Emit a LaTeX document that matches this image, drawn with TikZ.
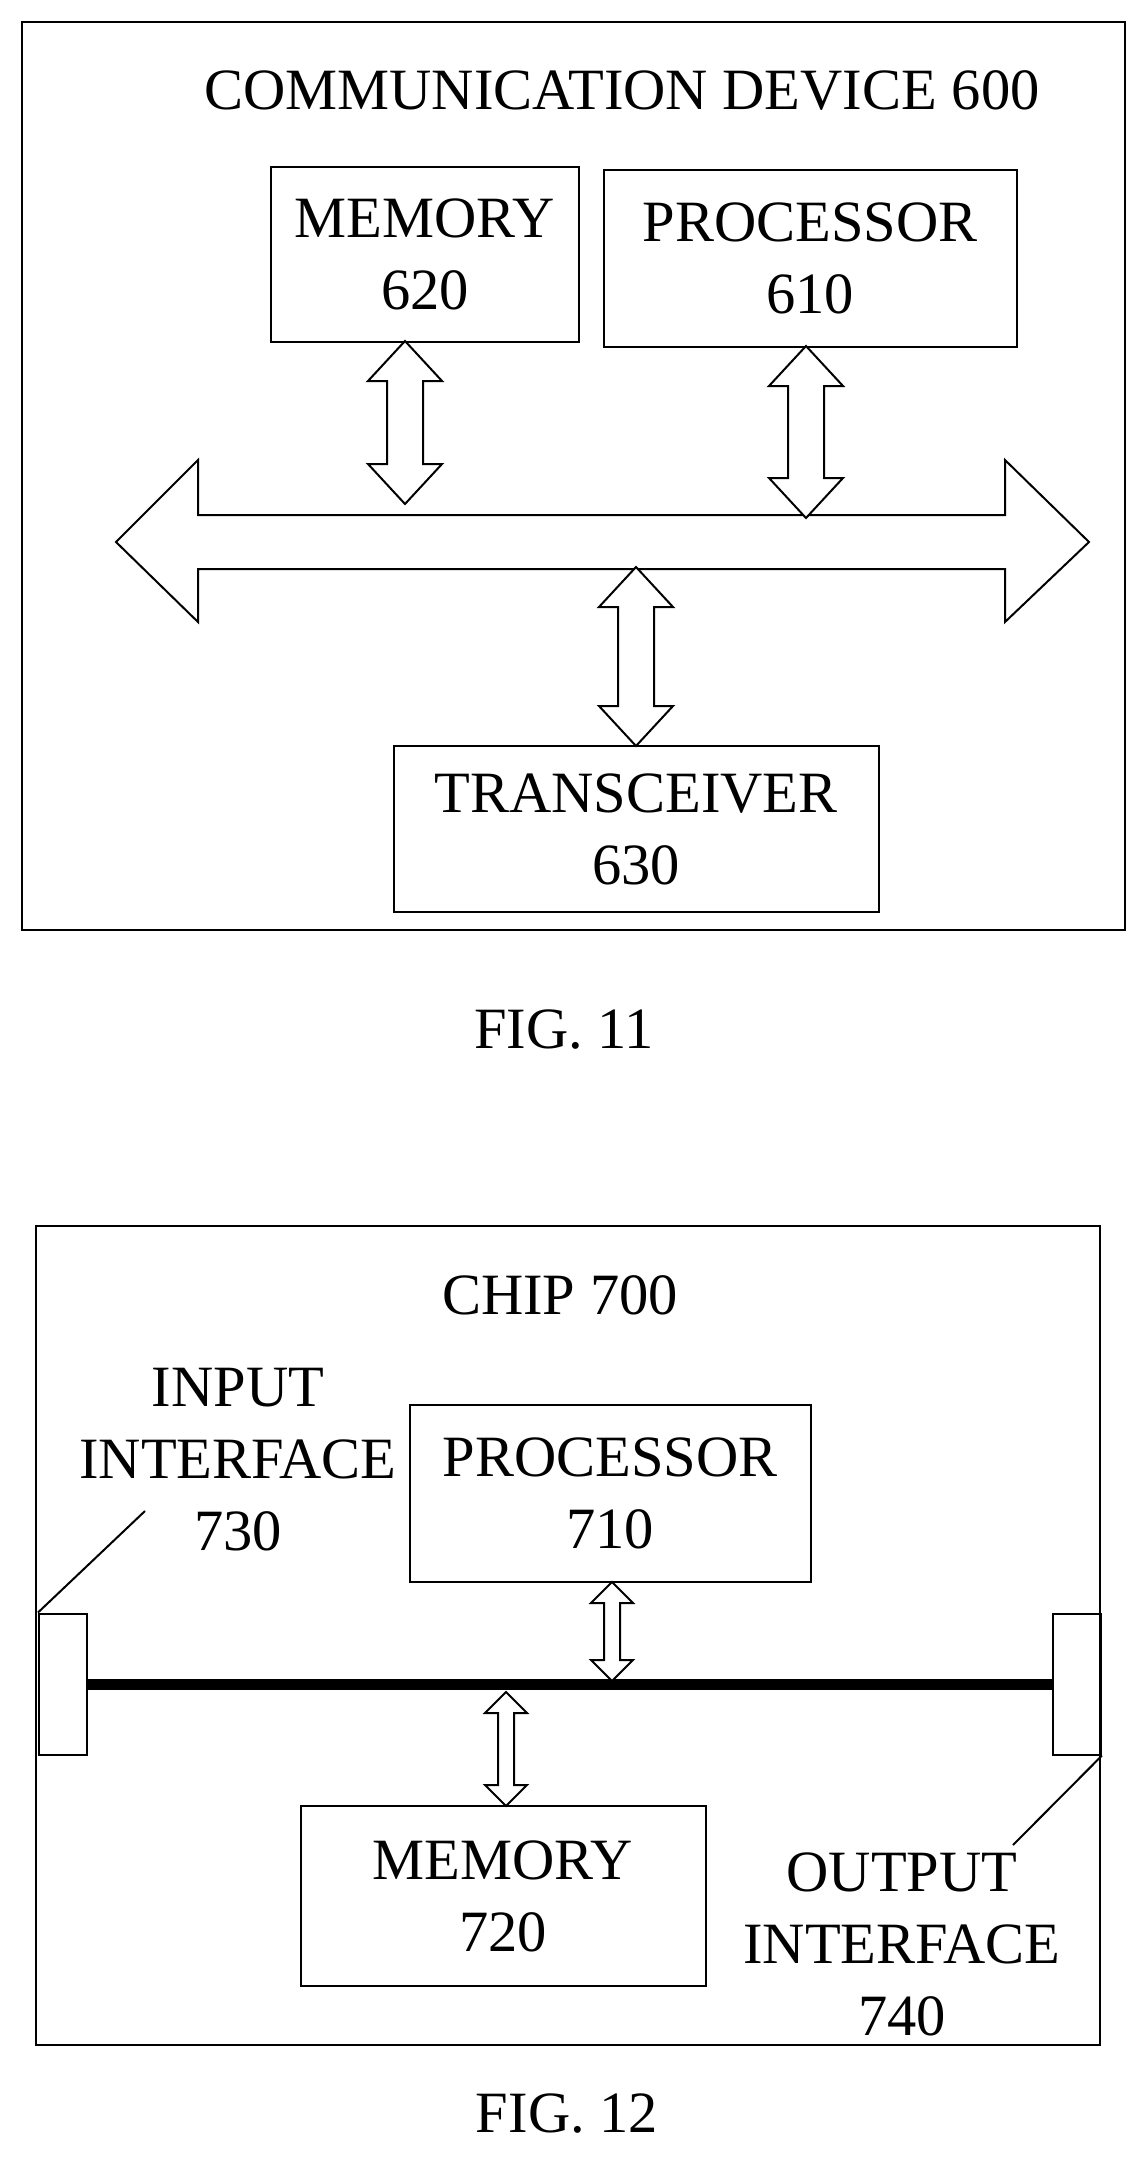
\documentclass[tikz,border=0pt]{standalone}
\usepackage{fontspec}
\setmainfont{Liberation Serif}
\newcommand\myvarr[6]{% x y1 y2 shafthalf headhalf headlen
\draw[fill=white] (#1,#2) -- ({#1+#5},{#2+#6}) -- ({#1+#4},{#2+#6}) -- ({#1+#4},{#3-#6}) -- ({#1+#5},{#3-#6}) -- (#1,#3) -- ({#1-#5},{#3-#6}) -- ({#1-#4},{#3-#6}) -- ({#1-#4},{#2+#6}) -- ({#1-#5},{#2+#6}) -- cycle;}
\begin{document}
\begin{tikzpicture}[x=1pt,y=-1pt,line width=2pt,
  lbl/.style={font=\fontsize{58.5}{72}\selectfont,align=center,inner sep=0pt},
  box/.style={draw,lbl}]
\useasboundingbox (0,0) rectangle (1147,2165);
% FIG 11
\draw (22,22) rectangle (1125,930);
\node[lbl] (t1) at (622,90) {COMMUNICATION DEVICE 600};
\node[box,minimum width=308pt,minimum height=175pt] (mem1) at (425,254) {MEMORY\\620};
\node[box,minimum width=413pt,minimum height=177pt] (proc1) at (810,258) {PROCESSOR\\610};
\node[box,minimum width=485pt,minimum height=166pt] (tr) at (636,829) {TRANSCEIVER\\630};
\draw[fill=white] (116,542) -- (198,460) -- (198,515) -- (1005,515) -- (1005,460) -- (1089,542) -- (1005,622) -- (1005,569) -- (198,569) -- (198,622) -- cycle;
\myvarr{405}{341}{504}{18}{37}{40}
\myvarr{806}{346}{518}{18}{37}{40}
\myvarr{636}{567}{746}{18}{37}{40}
\node[lbl] (f11) at (564,1030) {FIG. 11};
% FIG 12
\draw (36,1226) rectangle (1100,2045);
\node[lbl] (t2) at (560,1295) {CHIP 700};
\node[lbl] (in) at (238,1460) {INPUT\\INTERFACE\\730};
\node[box,minimum width=401pt,minimum height=177pt] (proc2) at (610,1493) {PROCESSOR\\710};
\node[box,minimum width=405pt,minimum height=180pt] (mem2) at (503,1896) {MEMORY\\720};
\node[lbl] (out) at (902,1944) {OUTPUT\\INTERFACE\\740};
\node[draw,minimum width=48pt,minimum height=141pt,inner sep=0pt] (ib) at (63,1684) {};
\node[draw,minimum width=48pt,minimum height=141pt,inner sep=0pt] (ob) at (1077,1684) {};
\draw[line width=11pt] (ib.east) -- (ob.west);
\coordinate (il) at (145,1511);
\coordinate (ol) at (1013,1845);
\draw (ib.north west) -- (il);
\draw (ob.south east) -- (ol);
\myvarr{612}{1582}{1681}{8}{21}{21}
\myvarr{506}{1692}{1806}{8}{21}{21}
\node[lbl] (f12) at (567,2114) {FIG. 12};
\end{tikzpicture}
\end{document}
